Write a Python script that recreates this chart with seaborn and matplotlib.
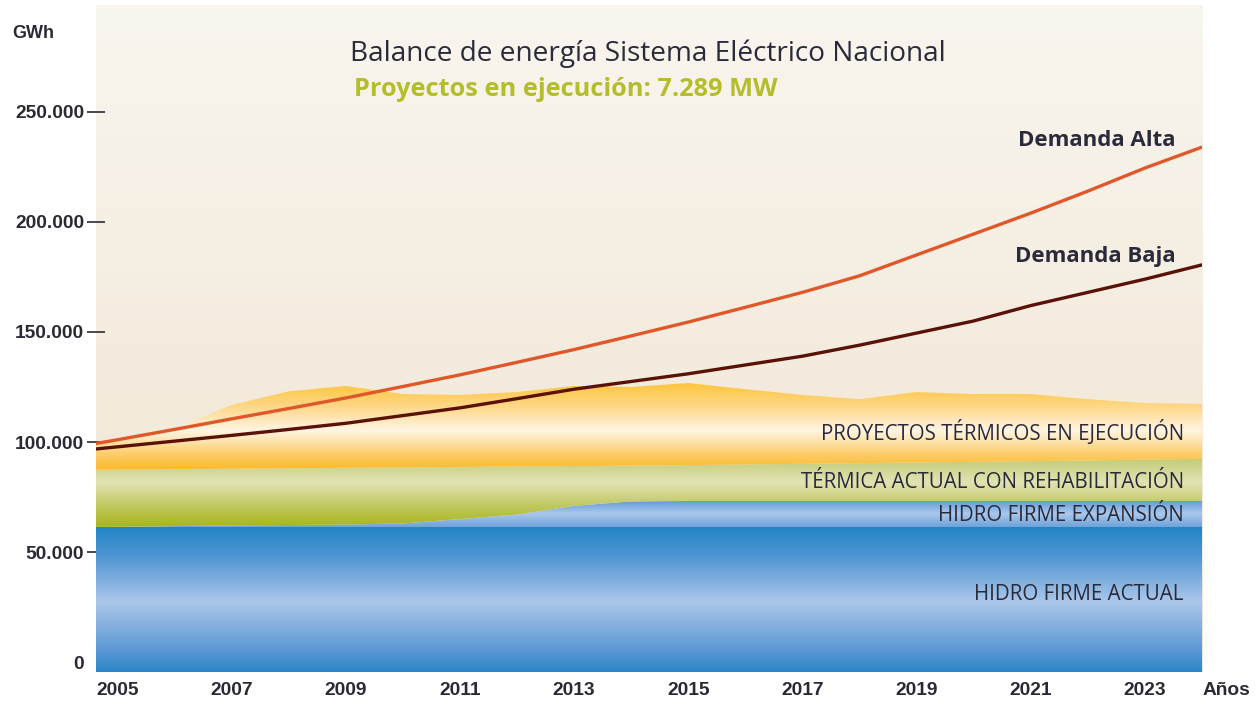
import numpy as np
import pandas as pd
import matplotlib
matplotlib.use("Agg")
import matplotlib.pyplot as plt
import seaborn as sns
from matplotlib.colors import LinearSegmentedColormap
from matplotlib.ticker import FuncFormatter

# datos (GWh)
years = list(range(2004, 2025))
hidro_actual = [61400] * 21
hidro_expansion_top = [61400, 61500, 61800, 62100, 62300, 62500, 63000, 65000, 67000, 71000,
                       73000, 73200, 73200, 73200, 73200, 73200, 73200, 73200, 73200, 73200, 73200]
termica_top = [87300, 87500, 87700, 87900, 88100, 88300, 88500, 88700, 88900, 89100,
               89300, 89500, 89800, 90100, 90400, 90700, 91000, 91300, 91600, 92000, 92300]
proyectos_top = [97500, 101000, 106000, 116800, 123000, 125500, 121800, 121400, 122700, 125500,
                 125000, 126800, 124000, 121400, 119500, 122700, 121800, 121800, 119500, 117700, 117300]
demanda_alta = [96500, 101000, 105700, 110500, 115200, 120000, 125200, 130500, 136200, 142000,
                148200, 154500, 161200, 168000, 175500, 185000, 194500, 204000, 214000, 224500, 234000]
demanda_baja = [95200, 97800, 100400, 103000, 105700, 108500, 112000, 115500, 119700, 124000,
                127500, 131000, 135000, 139000, 144000, 149500, 155000, 162000, 168000, 174000, 180500]

df = pd.DataFrame({"year": years, "alta": demanda_alta, "baja": demanda_baja})

sns.set_theme(style="white")
plt.rcParams["font.family"] = ["Open Sans", "DejaVu Sans"]

fig = plt.figure(figsize=(12.6, 7.07), dpi=100)
ax = fig.add_axes([0.0762, 0.0495, 0.8778, 0.9435])

XMIN, XMAX = 2004.63, 2024
YMIN, YMAX = -4500, 298600
x = np.array(years, dtype=float)


def grad_cmap(colors):
    return LinearSegmentedColormap.from_list("g", colors)


def gradient_band(y1, y2, colors, lo, hi, z):
    poly = ax.fill_between(x, y1, y2, color="none", lw=0, zorder=z)
    img = ax.imshow(np.linspace(0, 1, 256).reshape(-1, 1), cmap=grad_cmap(colors),
                    aspect="auto", origin="lower", extent=[XMIN, XMAX, lo, hi],
                    zorder=z, interpolation="bicubic")
    img.set_clip_path(poly.get_paths()[0], transform=ax.transData)


# fondo
ax.imshow(np.linspace(0, 1, 256).reshape(-1, 1),
          cmap=grad_cmap([(0, "#f0e5d2"), (0.5, "#f4ecdf"), (1, "#f9f6ef")]),
          aspect="auto", origin="lower", extent=[XMIN, XMAX, YMIN, YMAX], zorder=0)

zeros = np.full(len(x), YMIN)
gradient_band(zeros, hidro_actual,
              [(0, "#2a86c8"), (0.15, "#5b98d4"), (0.48, "#abc7ea"), (0.8, "#4f94d2"), (1, "#1f84c6")],
              YMIN, 61400, 1)
gradient_band(hidro_actual, hidro_expansion_top,
              [(0, "#6ea2da"), (0.5, "#aac8ec"), (1, "#5e98d6")],
              61400, 73300, 2)
gradient_band(hidro_expansion_top, termica_top,
              [(0, "#a7b61a"), (0.35, "#c4cb6a"), (0.65, "#e2e3b4"), (1, "#c3cb74")],
              61400, 92300, 3)
gradient_band(termica_top, proyectos_top,
              [(0, "#fcb928"), (0.18, "#fdcd6a"), (0.45, "#fff5e4"), (0.7, "#ffd98e"), (1, "#fdc43a")],
              87300, 127000, 4)

sns.lineplot(data=df, x="year", y="alta", ax=ax, color="#e0582a", lw=2.4, zorder=6)
sns.lineplot(data=df, x="year", y="baja", ax=ax, color="#5a1208", lw=2.4, zorder=6)

ax.set_xlim(XMIN, XMAX)
ax.set_ylim(YMIN, YMAX)
for s in ax.spines.values():
    s.set_visible(False)
ax.set_xlabel("")
ax.set_ylabel("")

ax.set_yticks([0, 50000, 100000, 150000, 200000, 250000])
ax.yaxis.set_major_formatter(FuncFormatter(lambda v, p: f"{int(v):,}".replace(",", ".")))
ax.set_xticks(list(range(2005, 2024, 2)))
ax.tick_params(axis="y", direction="inout", length=13, width=1.2, color="#2a2a35",
               left=True, labelsize=13.8, labelcolor="#2a2a35", pad=2)
ax.tick_params(axis="x", length=0, labelsize=13.8, labelcolor="#2a2a35", pad=7)
ax.yaxis.get_major_ticks()[0].tick1line.set_visible(False)
for lab in ax.get_xticklabels() + ax.get_yticklabels():
    lab.set_fontfamily(["Liberation Sans", "DejaVu Sans"])
    lab.set_fontweight("bold")

fig.text(0.0095, 0.953, "GWh", fontsize=13, fontweight="bold", color="#2a2a35",
         family=["Liberation Sans", "DejaVu Sans"], va="center")
fig.text(0.992, 0.024, "Años", fontsize=13.8, fontweight="bold", color="#2a2a35",
         family=["Liberation Sans", "DejaVu Sans"], va="center", ha="right")

fig.text(0.278, 0.924, "Balance de energía Sistema Eléctrico Nacional", fontsize=20.2,
         color="#2a2a3a", va="center")
fig.text(0.281, 0.873, "Proyectos en ejecución: 7.289 MW", fontsize=18.3,
         fontweight="bold", color="#b4bd2a", va="center")

ax.text(2023.53, 237000, "Demanda Alta", fontsize=16, fontweight="bold",
        color="#2a2a3a", ha="right", va="center")
ax.text(2023.53, 184500, "Demanda Baja", fontsize=16, fontweight="bold",
        color="#2a2a3a", ha="right", va="center")

band_labels = [("PROYECTOS TÉRMICOS EN EJECUCIÓN", 104100),
               ("TÉRMICA ACTUAL CON REHABILITACIÓN", 81400),
               ("HIDRO FIRME EXPANSIÓN", 66800),
               ("HIDRO FIRME ACTUAL", 30900)]
for txt, yv in band_labels:
    ax.text(2023.68, yv, txt, fontsize=14.8, color="#2a2a3a", ha="right", va="center", zorder=8)

fig.savefig("out.png", dpi=100, facecolor="white")
